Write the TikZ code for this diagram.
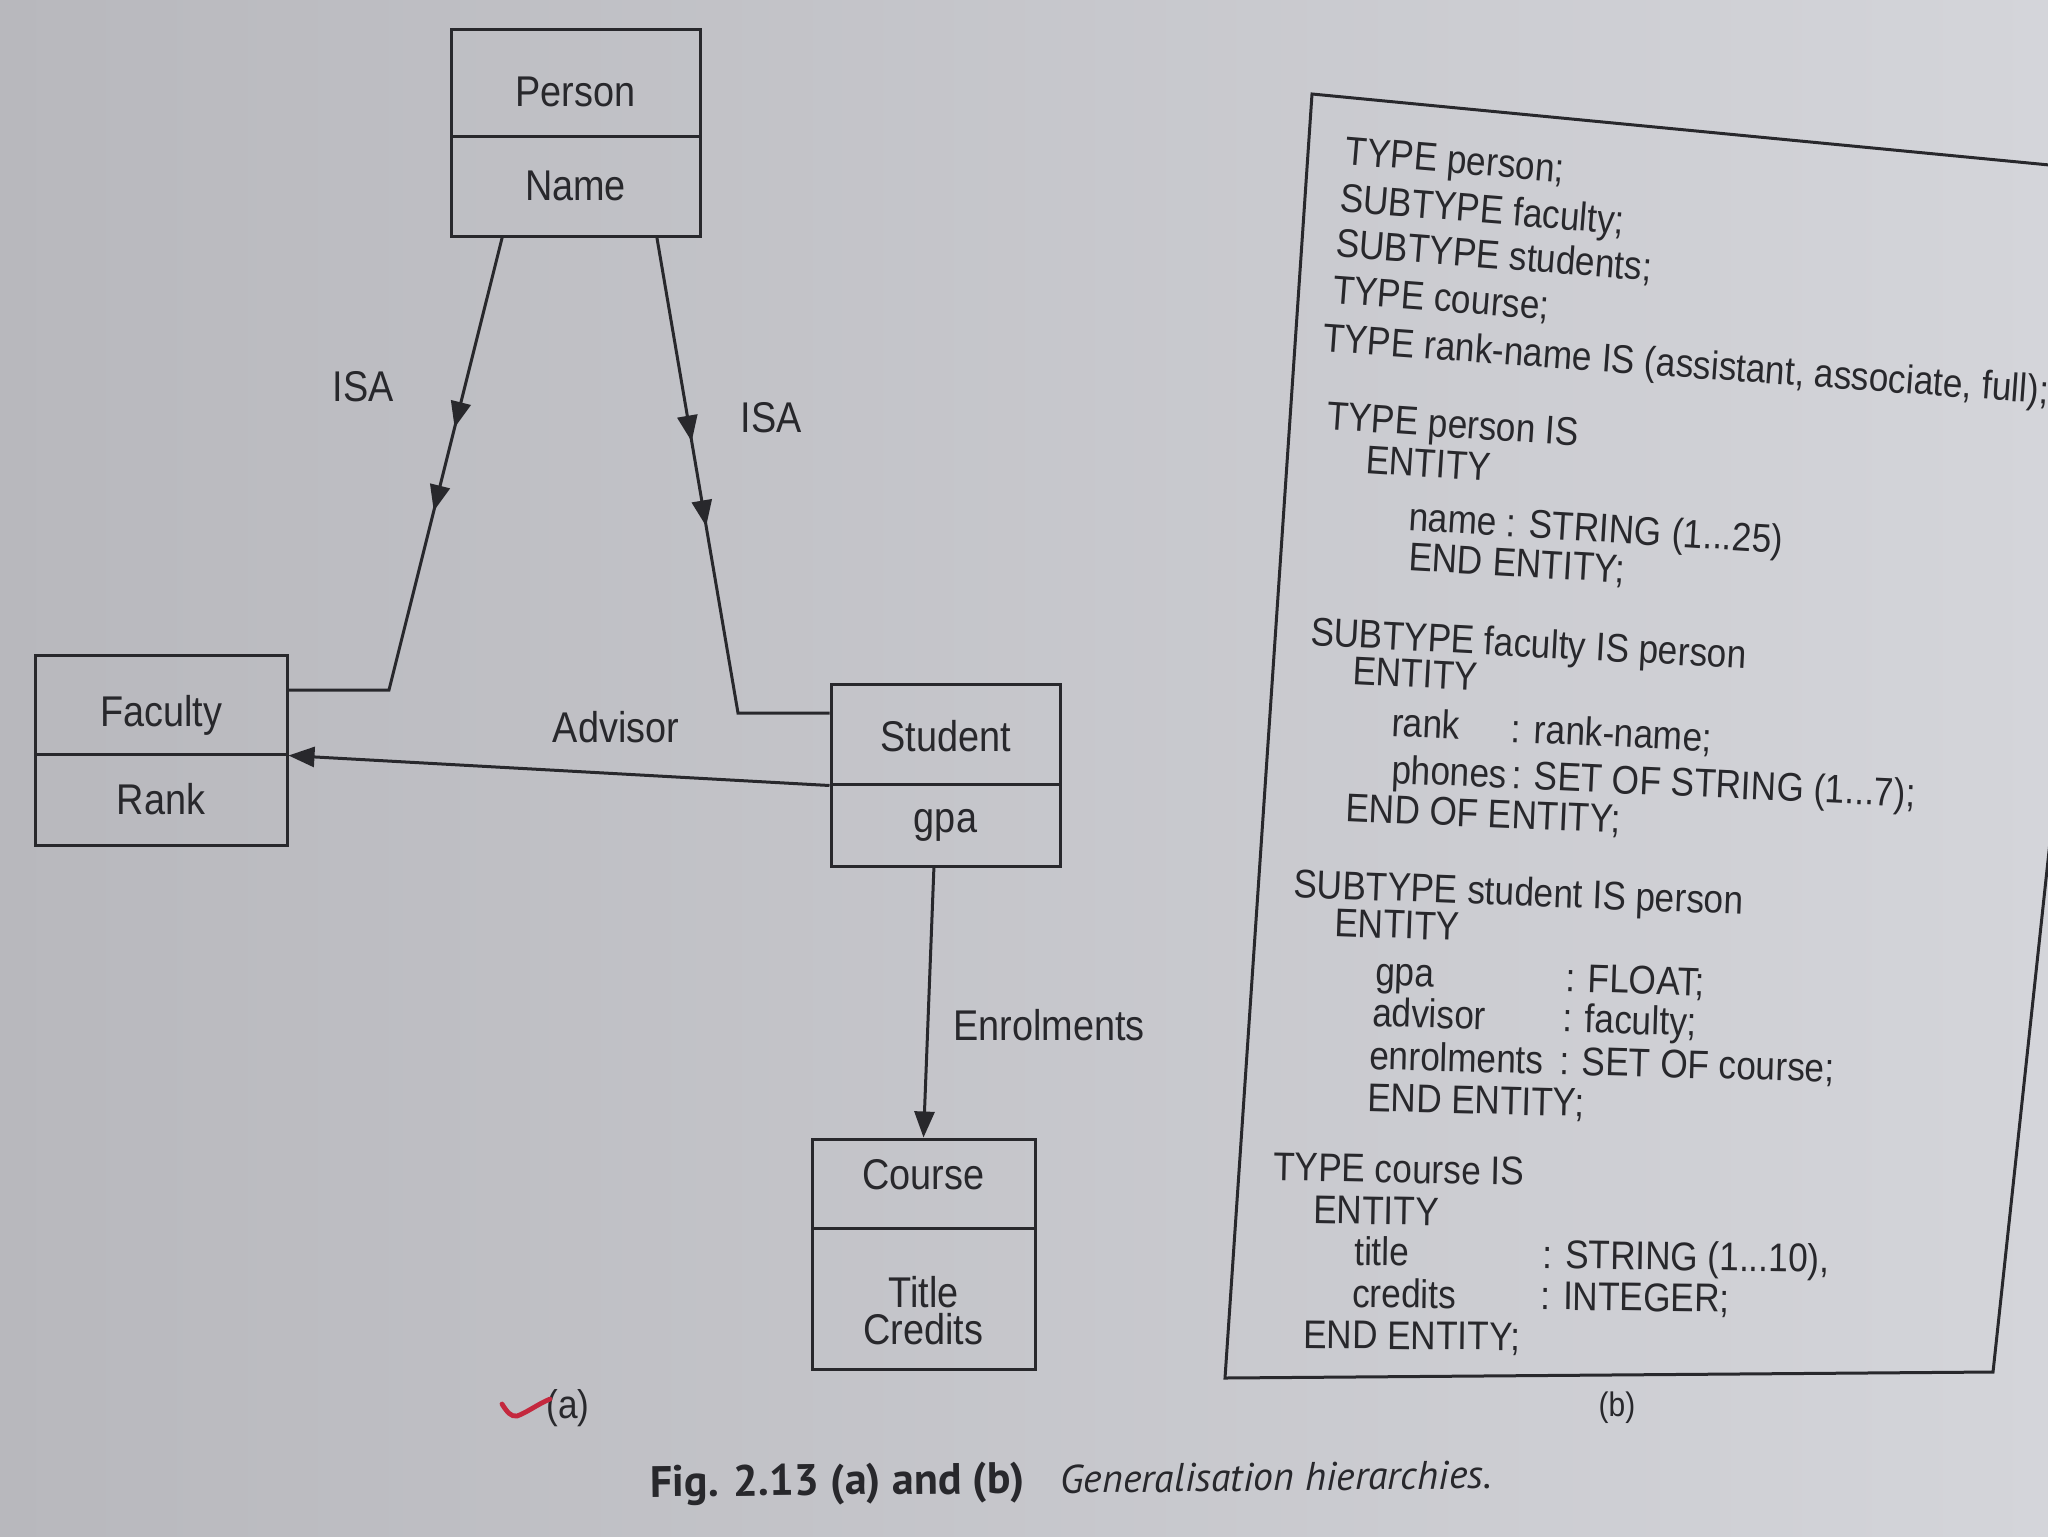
\documentclass[tikz,border=0pt]{standalone}
\usepackage{fontspec}
\setmainfont{Liberation Sans}
\newfontfamily\labfont{Liberation Sans}[FakeStretch=0.88]
\newfontfamily\capfont{PT Sans}
\usetikzlibrary{arrows.meta,decorations.markings,calc}
\definecolor{ink}{RGB}{40,40,44}
\definecolor{paperL}{RGB}{184,184,189}
\definecolor{paperR}{RGB}{212,213,218}
\definecolor{penred}{RGB}{196,40,62}
\begin{document}
\begin{tikzpicture}[x=0.5pt,y=-0.5pt,
  box/.style={draw=ink, line width=1.5pt, inner sep=0pt, align=center,
    font=\labfont\fontsize{21.5}{18.5}\selectfont, text=ink},
  lbl/.style={inner sep=0pt, font=\labfont\fontsize{21.5}{22}\selectfont, text=ink},
  conn/.style={ink, line width=1.5pt},
  tip/.style={-{Triangle[length=13pt,width=10pt]}},
  code/.style={anchor=west, inner sep=0pt, font=\labfont\fontsize{20}{23}\selectfont,
    text=ink, text height=0.72em, text depth=0.2em}
]
\useasboundingbox (0,0) rectangle (2048,1536);
\path[clip] (0,0) rectangle (2048,1536);
\shade[left color=paperL, right color=paperR] (0,0) rectangle (2048,1536);

% ---------- (a) diagram ----------
\node[box, minimum width=124.5pt, minimum height=53pt, text height=27.5pt, text depth=4.3pt] (person) at (575.5,83) {Person};
\node[box, minimum width=124.5pt, minimum height=50pt] (name) at (575.5,186) {Name};

\node[box, minimum width=126pt, minimum height=49.5pt, text height=26pt, text depth=4.3pt] (fac) at (161,704.5) {Faculty};
\node[box, minimum width=126pt, minimum height=45.5pt] (rank) at (161,799.5) {Rank};

\node[box, minimum width=114.5pt, minimum height=50pt, text height=22pt, text depth=4.3pt] (stu) at (945.5,734) {Student};
\node[box, minimum width=114.5pt, minimum height=41pt] (gpa) at (945.5,825) {gpa};

\node[box, minimum width=111.5pt, minimum height=44.5pt, text height=15.5pt, text depth=9.5pt] (course) at (923.5,1183.5) {Course};
\node[box, minimum width=111.5pt, minimum height=70.5pt] (tc) at (923.5,1298.5) {\rule{0pt}{28pt}Title\\Credits};

\coordinate (bendL) at (389,690);
\coordinate (bendR) at (738,713);

\draw[conn, postaction={decorate}, decoration={markings,
    mark=at position 98pt with {\arrow{Triangle[length=13pt,width=10pt]}},
    mark=at position 141pt with {\arrow{Triangle[length=13pt,width=10pt]}}}]
  ($(name.south west)!0.209!(name.south east)$) -- (bendL) -- (bendL -| fac.east);

\draw[conn, postaction={decorate}, decoration={markings,
    mark=at position 103.5pt with {\arrow{Triangle[length=13pt,width=10pt]}},
    mark=at position 146.5pt with {\arrow{Triangle[length=13pt,width=10pt]}}}]
  ($(name.south west)!0.823!(name.south east)$) -- (bendR) -- (bendR -| stu.west);

\draw[conn, tip] (stu.south west) -- (fac.south east);
\draw[conn, tip] ($(gpa.south west)!0.45!(gpa.south east)$) -- (course.north);

\node[lbl] (isaL) at (363,387) {ISA};
\node[lbl] (isaR) at (771,418) {ISA};
\node[lbl] (adv) at (616,727) {Advisor};
\node[lbl] (enr) at (1049,1025) {Enrolments};

\node[lbl, font=\labfont\fontsize{20}{22}\selectfont] (la) at (568,1408) {(a)};
\draw[penred, line width=2.4pt, line cap=round, line join=round]
  (502,1404) .. controls (507,1412) and (511,1417) .. (517,1416)
  .. controls (526,1413) and (538,1404) .. (550,1399);

% ---------- (b) code box ----------
\draw[ink, line width=1.5pt] (1312,94) -- (2122,172) -- (1993,1372) -- (1225,1378) -- cycle;

\node[code, rotate=-4.8]  (c1)  at (1345,159)  {TYPE person;};
\node[code, rotate=-4.63] (c2)  at (1339,206)  {SUBTYPE faculty;};
\node[code, rotate=-4.47] (c3)  at (1335,251)  {SUBTYPE students;};
\node[code, rotate=-4.31] (c4)  at (1332,298)  {TYPE course;};
\node[code, rotate=-4.14] (c5)  at (1322,346)  {TYPE rank-name IS (assistant, associate, full);};
\node[code, rotate=-3.86] (c6)  at (1326,424)  {TYPE person IS};
\node[code, rotate=-3.70] (c7)  at (1365,468)  {ENTITY};
\node[code, rotate=-3.50] (c8)  at (1408,525)  {name : STRING (1...25)};
\node[code, rotate=-3.36] (c9)  at (1408,565)  {END ENTITY;};
\node[code, rotate=-3.09] (c10) at (1310,640)  {SUBTYPE faculty IS person};
\node[code, rotate=-2.96] (c11) at (1352,679)  {ENTITY};
\node[code, rotate=-2.77] (c12) at (1391,731)  {\makebox[60pt][l]{rank}: rank-name;};
\node[code, rotate=-2.60] (c13) at (1391,778)  {\makebox[60pt][l]{phones}: SET OF STRING (1...7);};
\node[code, rotate=-2.47] (c14) at (1345,816)  {END OF ENTITY;};
\node[code, rotate=-2.20] (c15) at (1293,892)  {SUBTYPE student IS person};
\node[code, rotate=-2.06] (c16) at (1334,931)  {ENTITY};
\node[code, rotate=-1.89] (c17) at (1375,980)  {\makebox[95pt][l]{gpa}: FLOAT;};
\node[code, rotate=-1.74] (c18) at (1372,1021) {\makebox[95pt][l]{advisor}: faculty;};
\node[code, rotate=-1.59] (c19) at (1369,1064) {\makebox[95pt][l]{enrolments}: SET OF course;};
\node[code, rotate=-1.44] (c20) at (1367,1106) {END ENTITY;};
\node[code, rotate=-1.20] (c21) at (1273,1175) {TYPE course IS};
\node[code, rotate=-1.04] (c22) at (1313,1218) {ENTITY};
\node[code, rotate=-0.89] (c23) at (1354,1260) {\makebox[94pt][l]{title}: STRING (1...10),};
\node[code, rotate=-0.75] (c24) at (1352,1302) {\makebox[94pt][l]{credits}: INTEGER;};
\node[code, rotate=-0.60] (c25) at (1303,1343) {END ENTITY;};

\node[lbl, font=\labfont\fontsize{17}{20}\selectfont] (lb) at (1617,1408) {(b)};

% ---------- caption ----------
\node[anchor=base west, inner sep=0pt, rotate=0.6, text=ink,
  font=\capfont\bfseries\fontsize{22}{26}\selectfont] (capA) at (650,1497) {Fig. 2.13 (a) and (b)};
\node[anchor=base west, inner sep=0pt, rotate=0.6, text=ink,
  font=\capfont\itshape\fontsize{20}{24}\selectfont] (capB) at (1060,1493) {Generalisation hierarchies.};
\end{tikzpicture}
\end{document}
